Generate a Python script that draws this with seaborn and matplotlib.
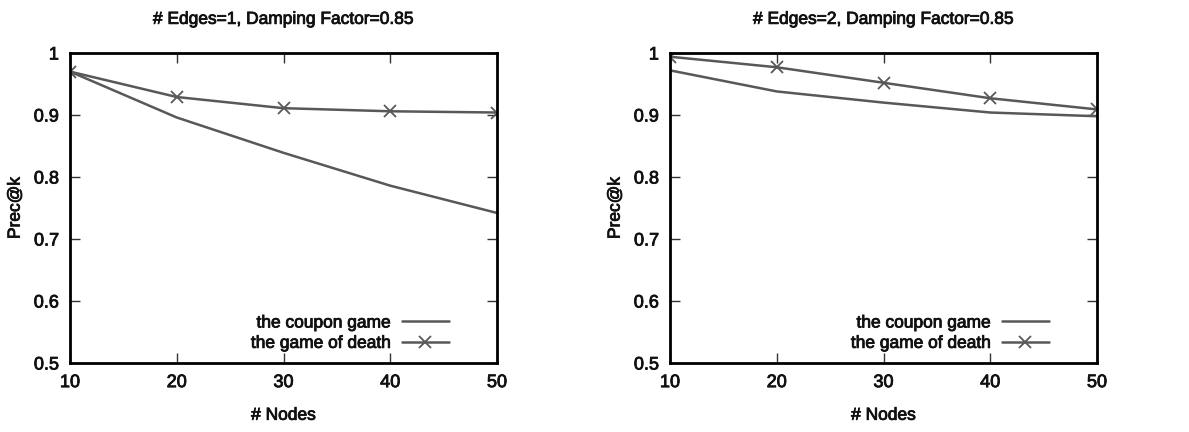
import matplotlib
matplotlib.use("Agg")
import matplotlib.pyplot as plt
import matplotlib.patheffects as pe
import seaborn as sns
import pandas as pd

nodes = [10, 20, 30, 40, 50]
coupon_e1 = [0.970, 0.896, 0.839, 0.786, 0.742]
death_e1 = [0.970, 0.929, 0.911, 0.906, 0.904]
coupon_e2 = [0.972, 0.938, 0.920, 0.904, 0.898]
death_e2 = [0.994, 0.977, 0.952, 0.927, 0.909]
titles = ["# Edges=1, Damping Factor=0.85", "# Edges=2, Damping Factor=0.85"]
series_names = ["the coupon game", "the game of death"]
yticks = [0.5, 0.6, 0.7, 0.8, 0.9, 1.0]
ytick_labels = ["0.5", "0.6", "0.7", "0.8", "0.9", "1"]

sns.set_theme(style="ticks")
plt.rcParams["font.family"] = ["Liberation Sans", "DejaVu Sans"]
fs = 12.5
tfs = 13
heavy = [pe.withStroke(linewidth=0.6, foreground="#111111")]

fig = plt.figure(figsize=(11.89, 4.32), dpi=100)
axes = [fig.add_axes([70/1189, 1-363/432, 427/1189, 310/432]),
        fig.add_axes([670/1189, 1-363/432, 427/1189, 310/432])]

line_color = "#585858"
for ax, title, cp, dt in zip(axes, titles, [coupon_e1, coupon_e2], [death_e1, death_e2]):
    df = pd.DataFrame({"x": nodes * 2, "y": cp + dt,
                       "s": [series_names[0]] * 5 + [series_names[1]] * 5})
    sns.lineplot(data=df[df.s == series_names[0]], x="x", y="y", ax=ax,
                 color=line_color, lw=1.8, label=series_names[0])
    sns.lineplot(data=df[df.s == series_names[1]], x="x", y="y", ax=ax,
                 color=line_color, lw=1.8, marker="x", markersize=9,
                 markeredgewidth=1.3, markeredgecolor=line_color, label=series_names[1])
    ax.set_xlim(10, 50)
    ax.set_ylim(0.5, 1.0)
    ax.set_xticks(nodes)
    ax.set_yticks(yticks)
    ax.set_yticklabels(ytick_labels)
    ax.tick_params(direction="in", top=True, right=True, length=7, width=1,
                   labelsize=tfs, color="#333333", labelcolor="#111111", pad=8)
    for lab in ax.get_xticklabels() + ax.get_yticklabels():
        lab.set_path_effects(heavy)
    for sp in ax.spines.values():
        sp.set_linewidth(2)
        sp.set_color("black")
        sp.set_visible(True)
    t = ax.set_title(title, fontsize=fs, pad=21, color="#111111")
    t.set_path_effects(heavy)
    ax.set_xlabel("# Nodes", fontsize=fs, labelpad=12, color="#111111").set_path_effects(heavy)
    ax.set_ylabel("Prec@k", fontsize=fs, labelpad=8, color="#111111").set_path_effects(heavy)
    leg = ax.legend(loc="lower right", bbox_to_anchor=(0.915, 0.0), frameon=False,
                    markerfirst=False, fontsize=fs, handlelength=2.7,
                    borderaxespad=0.3, labelspacing=0.3, handletextpad=0.6)
    for tx in leg.get_texts():
        tx.set_color("#111111")
        tx.set_path_effects(heavy)

fig.savefig("out.png", dpi=100)
